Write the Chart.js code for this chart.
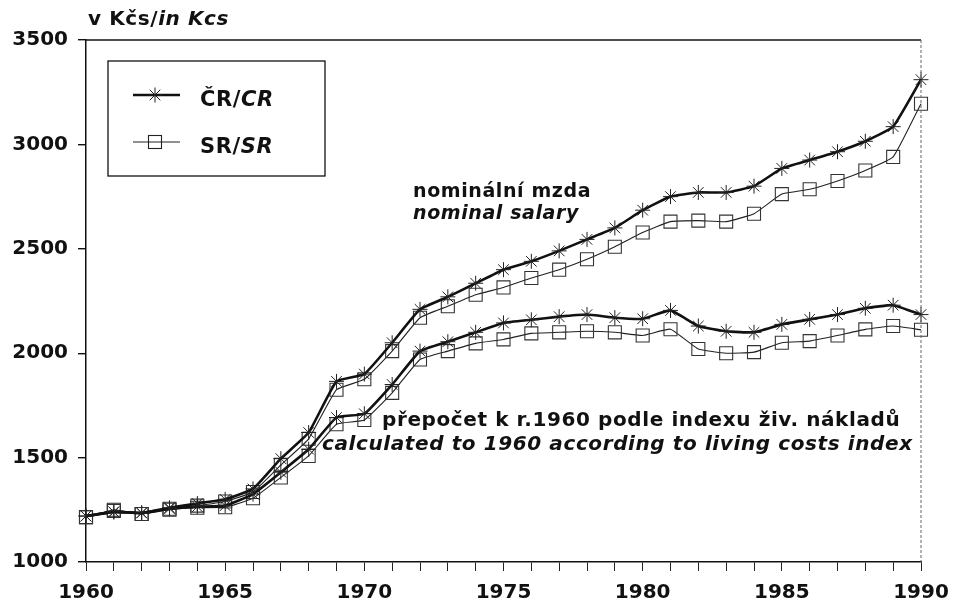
<!DOCTYPE html>
<html lang="cs">
<head>
<meta charset="utf-8">
<title>Mzdy ČR / SR 1960–1990</title>
<script src="https://cdn.jsdelivr.net/npm/chart.js@4.4.1/dist/chart.umd.min.js"></script>
<style>
  html, body { margin: 0; padding: 0; background: #fff; }
  #chart { display: block; }
</style>
</head>
<body>
<canvas id="chart" width="953" height="608"></canvas>
<script>
// roky na ose x
const years = ['1960', '1961', '1962', '1963', '1964', '1965', '1966', '1967', '1968', '1969',
  '1970', '1971', '1972', '1973', '1974', '1975', '1976', '1977', '1978', '1979',
  '1980', '1981', '1982', '1983', '1984', '1985', '1986', '1987', '1988', '1989', '1990'];

// nominální mzda (Kčs)
const nominalCR = [1220, 1240, 1235, 1260, 1280, 1300, 1350, 1495, 1620, 1865,
  1900, 2050, 2210, 2270, 2335, 2400, 2440, 2490, 2545, 2600,
  2685, 2750, 2770, 2770, 2800, 2885, 2925, 2965, 3015, 3085, 3310];
const nominalSR = [1215, 1250, 1230, 1255, 1270, 1290, 1335, 1465, 1590, 1825,
  1875, 2010, 2170, 2225, 2280, 2315, 2360, 2400, 2450, 2510,
  2578, 2630, 2635, 2630, 2668, 2762, 2785, 2825, 2875, 2940, 3195];

// přepočet k r. 1960 podle indexu životních nákladů
const realCR = [1220, 1240, 1235, 1255, 1265, 1270, 1325, 1430, 1540, 1692,
  1710, 1850, 2010, 2055, 2100, 2145, 2160, 2175, 2185, 2170,
  2165, 2205, 2130, 2105, 2100, 2138, 2162, 2185, 2215, 2230, 2185];
const realSR = [1215, 1245, 1230, 1250, 1260, 1262, 1305, 1405, 1508, 1660,
  1680, 1810, 1970, 2010, 2047, 2066, 2095, 2100, 2105, 2100,
  2085, 2115, 2020, 2000, 2005, 2050, 2058, 2085, 2114, 2130, 2112];

const yTicks = [1000, 1500, 2000, 2500, 3000, 3500];

const FONT = 'DejaVu Sans';
const INK = '#111';

// styl řad: ČR tlustá čára s hvězdičkou, SR tenká čára se čtverečkem
function crSeries(data) {
  return {
    data: data,
    borderColor: INK,
    borderWidth: 2.6,
    pointStyle: 'star',
    pointRadius: 7.5,
    pointBorderWidth: 1,
    pointBorderColor: '#222',
    pointBackgroundColor: 'transparent',
    tension: 0.12
  };
}
function srSeries(data) {
  return {
    data: data,
    borderColor: '#222',
    borderWidth: 1.1,
    pointStyle: 'rect',
    pointRadius: 9.2,
    pointBorderWidth: 1.1,
    pointBorderColor: '#333',
    pointBackgroundColor: 'transparent',
    tension: 0.12
  };
}

/**
 * text složený z úseků (normální / kurzíva)
 */
function drawRuns(ctx, runs, x, y, size) {
  let cx = x;
  runs.forEach(([text, italic]) => {
    ctx.font = (italic ? 'italic ' : '') + 'bold ' + size + 'px "' + FONT + '"';
    ctx.fillText(text, cx, y);
    cx += ctx.measureText(text).width;
  });
}

function drawStar(ctx, x, y, r) {
  ctx.beginPath();
  for (let i = 0; i < 4; i++) {
    const a = i * Math.PI / 4;
    ctx.moveTo(x - Math.cos(a) * r, y - Math.sin(a) * r);
    ctx.lineTo(x + Math.cos(a) * r, y + Math.sin(a) * r);
  }
  ctx.stroke();
}

// rámeček, popisky a legenda
const decorPlugin = {
  id: 'decor',
  afterDraw(chart) {
    const ctx = chart.ctx;
    const a = chart.chartArea;
    ctx.save();

    // horní hrana
    ctx.strokeStyle = INK;
    ctx.lineWidth = 1.4;
    ctx.beginPath();
    ctx.moveTo(a.left, a.top);
    ctx.lineTo(a.right, a.top);
    ctx.stroke();

    // pravá hrana (tečkovaná)
    ctx.strokeStyle = '#666';
    ctx.lineWidth = 1;
    ctx.setLineDash([3, 2]);
    ctx.beginPath();
    ctx.moveTo(a.right, a.top);
    ctx.lineTo(a.right, a.bottom);
    ctx.stroke();
    ctx.setLineDash([]);

    ctx.fillStyle = INK;
    ctx.textBaseline = 'alphabetic';
    ctx.textAlign = 'left';
    ctx.letterSpacing = '0.6px';

    // jednotky
    drawRuns(ctx, [['v Kčs/', false], ['in Kcs', true]], 88, 25, 20);

    // popisky křivek
    drawRuns(ctx, [['nominální mzda', false]], 413, 197, 19);
    drawRuns(ctx, [['nominal salary', true]], 413, 219, 19);
    drawRuns(ctx, [['přepočet k r.1960 podle indexu živ. nákladů', false]], 382, 426, 20);
    drawRuns(ctx, [['calculated to 1960 according to living costs index', true]], 322, 450, 20);

    // legenda
    ctx.strokeStyle = INK;
    ctx.lineWidth = 1.3;
    ctx.strokeRect(108, 61, 217, 115);

    ctx.lineWidth = 2.6;
    ctx.beginPath();
    ctx.moveTo(133, 95);
    ctx.lineTo(180, 95);
    ctx.stroke();
    ctx.lineWidth = 1;
    ctx.strokeStyle = '#222';
    drawStar(ctx, 155, 95, 7.5);

    ctx.strokeStyle = '#222';
    ctx.lineWidth = 1.1;
    ctx.beginPath();
    ctx.moveTo(133, 142);
    ctx.lineTo(180, 142);
    ctx.stroke();
    ctx.strokeRect(148.5, 135.5, 13, 13);

    drawRuns(ctx, [['ČR/', false], ['CR', true]], 200, 106, 21);
    drawRuns(ctx, [['SR/', false], ['SR', true]], 200, 153, 21);

    ctx.restore();
  }
};

const chart = new Chart(document.getElementById('chart'), {
  type: 'line',
  data: {
    labels: years,
    datasets: [
      crSeries(nominalCR),
      crSeries(realCR),
      srSeries(nominalSR),
      srSeries(realSR)
    ]
  },
  options: {
    responsive: false,
    animation: false,
    devicePixelRatio: 1,
    layout: { padding: { top: 40, right: 32, left: 0, bottom: 0 } },
    plugins: {
      legend: { display: false },
      tooltip: { enabled: false }
    },
    scales: {
      x: {
        type: 'category',
        offset: false,
        afterFit: (s) => {
          s.height = 46;
          s.paddingLeft = 0;
          s.paddingRight = 0;
        },
        grid: {
          offset: false,
          drawOnChartArea: false,
          drawTicks: true,
          tickLength: 9,
          color: '#222',
          lineWidth: 1
        },
        border: { display: true, color: INK, width: 1.5 },
        ticks: {
          autoSkip: false,
          maxRotation: 0,
          padding: 10,
          color: INK,
          font: { family: FONT, size: 20, weight: 'bold' },
          callback: function (value, index) {
            const label = years[index];
            return Number(label) % 5 === 0 ? label : '';
          }
        }
      },
      y: {
        min: 1000,
        max: 3500,
        afterFit: (s) => {
          s.width = 86;
          s.paddingTop = 0;
          s.paddingBottom = 0;
        },
        afterBuildTicks: (s) => { s.ticks = yTicks.map(v => ({ value: v })); },
        grid: {
          drawOnChartArea: false,
          drawTicks: true,
          tickLength: 8,
          color: INK,
          lineWidth: 1.4
        },
        border: { display: true, color: INK, width: 1.5 },
        ticks: {
          padding: 10,
          color: INK,
          font: { family: FONT, size: 20, weight: 'bold' },
          callback: (v) => String(v)
        }
      }
    }
  },
  plugins: [decorPlugin]
});
</script>
</body>
</html>
